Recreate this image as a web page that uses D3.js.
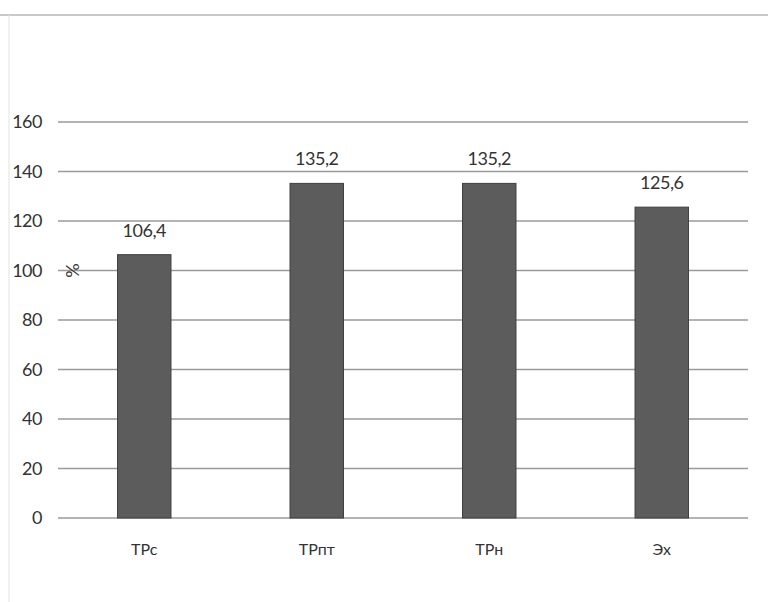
<!DOCTYPE html>
<html>
<head>
<meta charset="utf-8">
<script src="https://cdn.jsdelivr.net/npm/d3@7"></script>
<style>
  html, body { margin: 0; padding: 0; background: #ffffff; }
  svg { display: block; }
  text { font-family: "Liberation Sans Narrow", Lato, "Open Sans", sans-serif; fill: #333; }
</style>
</head>
<body>
<svg id="chart" width="768" height="602"></svg>
<script>
// Categories and values (%)
const categories = ["ТРс", "ТРпт", "ТРн", "Эх"];
const values = [106.4, 135.2, 135.2, 125.6];
const valueLabels = ["106,4", "135,2", "135,2", "125,6"];
const yTicks = [0, 20, 40, 60, 80, 100, 120, 140, 160];
const yTitle = "%";

const svg = d3.select("#chart");
const W = 768, H = 602;
const margin = { left: 58, right: 20, top: 122, bottom: 84 };

// Outer frame lines
svg.append("line").attr("x1", 0).attr("x2", W).attr("y1", 15).attr("y2", 15)
  .attr("stroke", "#c8c8c8").attr("stroke-width", 2);
svg.append("line").attr("x1", 9).attr("x2", 9).attr("y1", 15).attr("y2", H)
  .attr("stroke", "#e2e2e2").attr("stroke-width", 1);

const x = d3.scaleBand().domain(categories).range([margin.left, W - margin.right]).paddingInner(0.69).paddingOuter(0.345);
const y = d3.scaleLinear().domain([0, 160]).range([H - margin.bottom, margin.top]);

// Horizontal gridlines
svg.append("g").selectAll("line").data(yTicks).join("line")
  .attr("x1", margin.left).attr("x2", W - margin.right)
  .attr("y1", d => y(d)).attr("y2", d => y(d))
  .attr("stroke", "#9a9a9a").attr("stroke-width", 1.5);

// Y axis labels
const yAxis = d3.axisLeft(y).tickValues(yTicks).tickSize(0).tickPadding(0).tickFormat(d3.format("d"));
const gy = svg.append("g").attr("transform", `translate(${margin.left - 16},0)`).call(yAxis);
gy.select(".domain").remove();
gy.selectAll("text").style("font-size", "18px").style("letter-spacing", "-0.5px").attr("fill", "#333");

// Y title
svg.append("text").attr("transform", `translate(74,${y(100)}) rotate(-90)`)
  .attr("text-anchor", "middle").attr("dominant-baseline", "middle")
  .style("font-size", "18px").text(yTitle);

// Bars
svg.append("g").selectAll("rect").data(values).join("rect")
  .attr("x", (d, i) => x(categories[i]))
  .attr("y", d => y(d))
  .attr("width", x.bandwidth())
  .attr("height", d => y(0) - y(d))
  .attr("fill", "#5c5c5c")
  .attr("stroke", "#404040").attr("stroke-width", 1);

// Value labels
svg.append("g").selectAll("text").data(values).join("text")
  .attr("x", (d, i) => x(categories[i]) + x.bandwidth() / 2)
  .attr("y", d => y(d) - 18)
  .attr("text-anchor", "middle")
  .style("font-size", "18px").style("letter-spacing", "-0.5px")
  .text((d, i) => valueLabels[i]);

// Category axis labels
const xAxis = d3.axisBottom(x).tickSize(0).tickPadding(26);
const gx = svg.append("g").attr("transform", `translate(0,${y(0)})`).call(xAxis);
gx.select(".domain").remove();
gx.selectAll("text").style("font-size", "16px").attr("fill", "#333");
</script>
</body>
</html>
